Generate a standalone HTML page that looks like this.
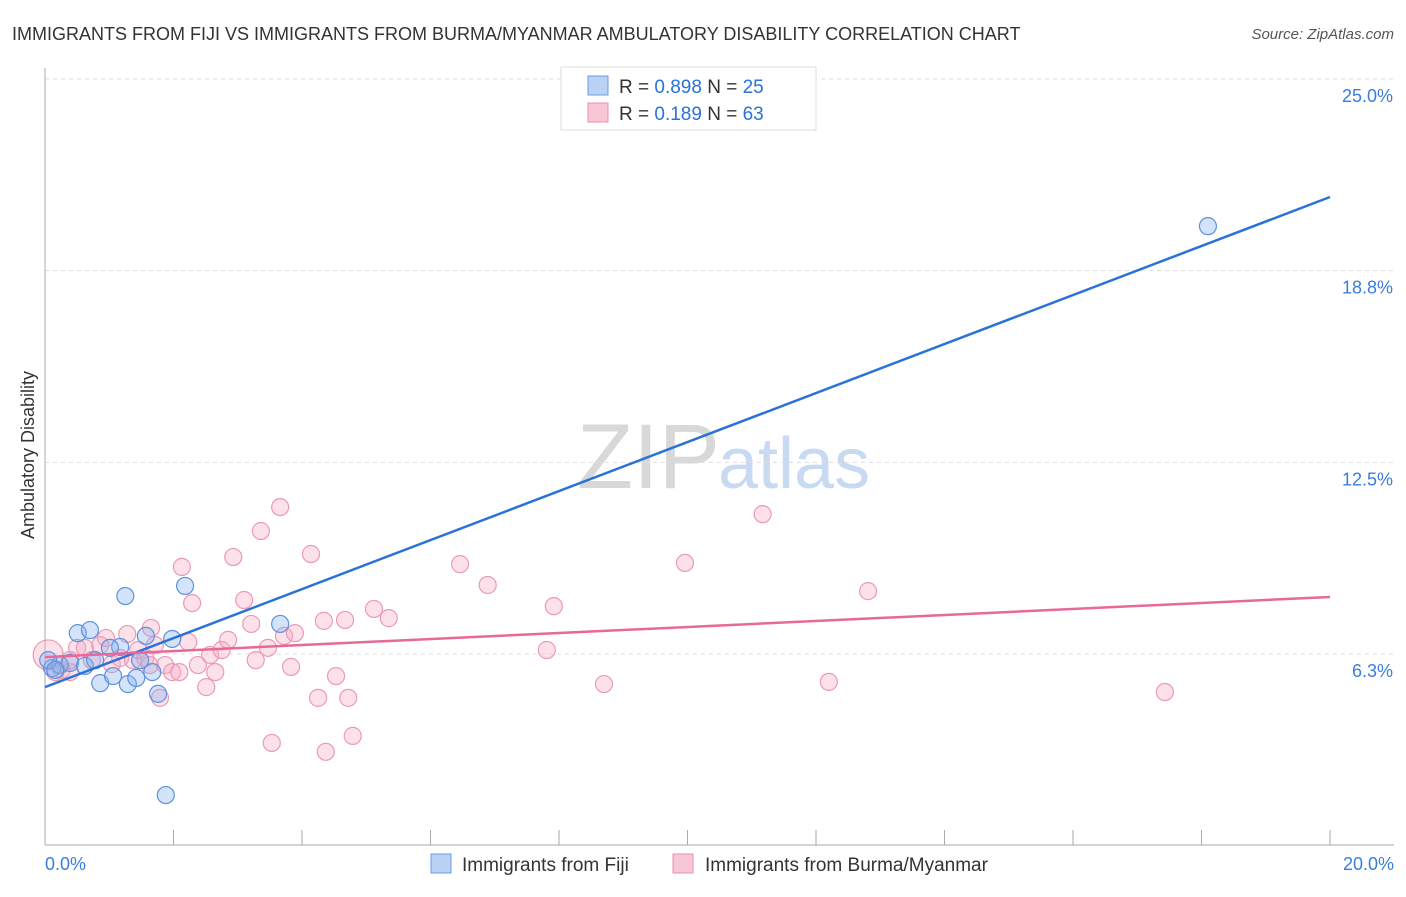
<!DOCTYPE html>
<html><head><meta charset="utf-8"><style>
body{margin:0;background:#fff;font-family:"Liberation Sans",sans-serif}
svg text{font-family:"Liberation Sans",sans-serif}
</style></head><body>
<svg id="c" width="1406" height="892" xmlns="http://www.w3.org/2000/svg">
<text x="12" y="40" font-size="18" fill="#333">IMMIGRANTS FROM FIJI VS IMMIGRANTS FROM BURMA/MYANMAR AMBULATORY DISABILITY CORRELATION CHART</text>
<text x="1394" y="39" font-size="15" fill="#555" font-style="italic" text-anchor="end">Source: ZipAtlas.com</text>
<text x="720" y="488" font-size="92" fill="#d8d8d8" text-anchor="end" font-family="Liberation Serif">ZIP</text>
<text x="718" y="488" font-size="72" fill="#c7daf2">atlas</text>
<text transform="translate(34,455) rotate(-90)" font-size="18" fill="#333" text-anchor="middle">Ambulatory Disability</text>
<g id="grid"></g><g id="axes"></g><g id="pts"></g><g id="lines"></g>
<g>
<rect x="561" y="67" width="255" height="63" fill="#fff" stroke="#ddd"/>
<rect x="588" y="76" width="20" height="19" fill="#b9d3f5" stroke="#6b9be0"/>
<rect x="588" y="103" width="20" height="19" fill="#f9c6d6" stroke="#e890a8"/>
<text x="619" y="93" font-size="19" fill="#333">R = <tspan fill="#2a72d8">0.898</tspan>    N = <tspan fill="#2a72d8">25</tspan></text>
<text x="619" y="120" font-size="19" fill="#333">R =  <tspan fill="#2a72d8">0.189</tspan>    N = <tspan fill="#2a72d8">63</tspan></text>
</g>
<g>
<rect x="431" y="854" width="20" height="19" fill="#b9d3f5" stroke="#6b9be0"/>
<text x="462" y="871" font-size="19" fill="#333">Immigrants from Fiji</text>
<rect x="673" y="854" width="20" height="19" fill="#f9c6d6" stroke="#e890a8"/>
<text x="705" y="871" font-size="19" fill="#333">Immigrants from Burma/Myanmar</text>
</g>
</svg>
<script>
const yTicks=[6.25,12.5,18.75,25];
const yTickLabels=["6.3%","12.5%","18.8%","25.0%"];
const xTickLabels=["0.0%","20.0%"];
const fijiX=[0.11,0.23,0.39,0.51,0.70,0.62,0.86,1.06,1.17,1.25,1.29,1.42,1.48,1.57,1.67,1.76,1.88,1.98,2.18,3.66,18.10,0.05,0.16,0.78,1.01];
const fijiY=[5.79,5.89,5.96,6.93,7.03,5.86,5.30,5.53,6.48,8.14,5.27,5.47,6.05,6.84,5.66,4.95,1.65,6.74,8.47,7.23,20.20,6.05,5.73,6.05,6.45];
const burmaX=[0.05,0.16,0.26,0.39,0.50,0.62,0.73,0.86,0.95,1.04,1.17,1.28,1.37,1.45,1.56,1.65,1.71,1.79,1.87,1.98,2.09,2.13,2.23,2.29,2.38,2.51,2.57,2.65,2.75,2.85,2.93,3.10,3.21,3.28,3.36,3.47,3.53,3.66,3.72,3.83,3.89,4.14,4.25,4.34,4.37,4.53,4.67,4.72,4.79,5.12,5.35,6.46,6.89,7.81,7.92,8.70,9.96,11.17,12.20,12.81,17.43,0.39,1.63];
const burmaY=[6.22,5.66,5.73,5.66,6.45,6.45,6.05,6.54,6.77,5.92,6.12,6.90,6.05,6.38,6.12,7.10,6.54,4.82,5.89,5.66,5.66,9.09,6.64,7.91,5.89,5.17,6.22,5.66,6.38,6.71,9.41,8.01,7.23,6.05,10.26,6.45,3.35,11.04,6.84,5.83,6.93,9.51,4.82,7.33,3.06,5.53,7.36,4.82,3.58,7.72,7.42,9.18,8.50,6.38,7.81,5.27,9.22,10.81,5.34,8.30,5.01,6.05,5.89];
const fijiTrend=[5.17,21.15];
const burmaTrend=[6.15,8.11];
const NS="http://www.w3.org/2000/svg";
const X=v=>45+v/20*1285;
const Y=v=>654-(v-6.25)*30.67;
function mk(t,p,a){const e=document.createElementNS(NS,t);for(const k in a)e.setAttribute(k,a[k]);p.appendChild(e);return e;}
const grid=document.getElementById('grid'),axes=document.getElementById('axes'),pts=document.getElementById('pts'),lines=document.getElementById('lines');
yTicks.forEach((t,i)=>{
 const l=mk('line',grid,{x1:45,x2:1394,y1:Y(t),y2:Y(t),stroke:'#ddd','stroke-dasharray':'4,4'});
 
 
 const tx=mk('text',axes,{x:1393,y:Y(t)+23,'font-size':18,fill:'#3b7ddd','text-anchor':'end'});
 tx.textContent=yTickLabels[i];
 
 
});
const ax=mk('line',axes,{x1:45,x2:45,y1:68,y2:845,stroke:'#aaa'});


const bx=mk('line',axes,{x1:45,x2:1394,y1:845,y2:845,stroke:'#aaa'});


for(let i=0;i<=10;i++){
 const tk=mk('line',axes,{x1:X(i*2),x2:X(i*2),y1:830,y2:845,stroke:'#aaa'});
 
 
}
[[0,'start',45],[20,'end',1394]].forEach((d,i)=>{
 const t=mk('text',axes,{x:d[2],y:870,'font-size':18,fill:'#3b7ddd','text-anchor':d[1]});
 t.textContent=xTickLabels[i];
 
 
});
burmaX.forEach((x,i)=>{
 const c=mk('circle',pts,{cx:X(x),cy:Y(burmaY[i]),r:i==0?15:8.5,fill:'rgba(246,170,195,0.35)',stroke:'#eb9ab3','stroke-width':1.2});
 
 
});
fijiX.forEach((x,i)=>{
 const c=mk('circle',pts,{cx:X(x),cy:Y(fijiY[i]),r:8.5,fill:'rgba(130,175,240,0.35)',stroke:'#5d92dc','stroke-width':1.2});
 
 
});
const fl=mk('line',lines,{x1:X(0),y1:Y(fijiTrend[0]),x2:X(20),y2:Y(fijiTrend[1]),stroke:'#2a72d8','stroke-width':2.5});


const bl=mk('line',lines,{x1:X(0),y1:Y(burmaTrend[0]),x2:X(20),y2:Y(burmaTrend[1]),stroke:'#e8689a','stroke-width':2.5});


</script>
</body></html>
